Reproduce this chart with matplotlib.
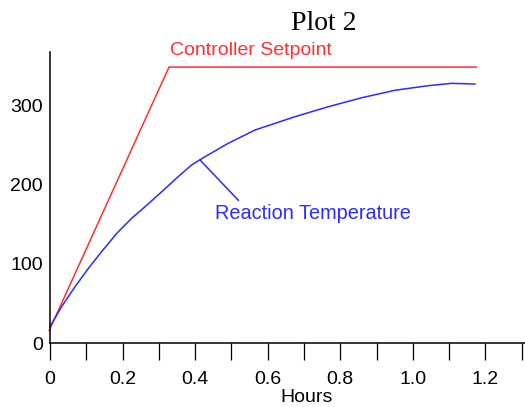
import matplotlib

matplotlib.use("Agg")
import matplotlib.pyplot as plt

# setpoint ramp then hold
setpoint_hours = [-0.002, 0.328, 1.175]
setpoint_values = [16, 348, 348]

# reaction temperature
temp_hours = [0.0, 0.032, 0.069, 0.106, 0.142, 0.184, 0.225, 0.262, 0.308,
              0.353, 0.390, 0.427, 0.491, 0.565, 0.675, 0.767, 0.859, 0.950,
              1.042, 1.107, 1.171]
temp_values = [20.6, 45.8, 71.0, 94.2, 115.1, 138.3, 157.3, 171.9, 190.8,
               209.7, 224.5, 234.9, 251.8, 268.6, 285.4, 298.0, 309.3, 318.7,
               324.5, 327.5, 326.6]

x_ticks = [i / 10 for i in range(14)]
x_labels = ["0", "", "0.2", "", "0.4", "", "0.6", "", "0.8", "", "1.0", "", "1.2", ""]
y_ticks = [0, 100, 200, 300]

RED = "#ff3030"
BLUE = "#2b2bff"
SANS = "Liberation Sans"

fig = plt.figure(figsize=(5.25, 4.07), dpi=100)
ax = fig.add_axes([50 / 525, 64 / 407, 475 / 525, 291 / 407])

ax.plot(setpoint_hours, setpoint_values, color=RED, lw=1.1, clip_on=False)
ax.plot(temp_hours, temp_values, color=BLUE, lw=1.1, clip_on=False)
ax.plot([0.413, 0.519], [231, 180], color=BLUE, lw=1.1)

ax.text(0.331, 369, "Controller Setpoint", color=RED, fontsize=14,
        family=SANS, va="center", ha="left", clip_on=False)
ax.text(0.455, 163, "Reaction Temperature", color=BLUE, fontsize=14.3,
        family=SANS, va="center", ha="left")

ax.set_xlim(0, 1.309)
ax.set_ylim(0, 367)
for side in ("top", "right"):
    ax.spines[side].set_visible(False)
for side in ("left", "bottom"):
    ax.spines[side].set_linewidth(1.1)

ax.set_xticks(x_ticks)
ax.set_xticklabels(x_labels, family=SANS, fontsize=14)
ax.set_yticks(y_ticks)
ax.set_yticklabels([str(v) for v in y_ticks], family=SANS, fontsize=14)
ax.tick_params(axis="x", direction="out", length=12, width=0.9, pad=8)
ax.tick_params(axis="y", length=0, pad=5)
ax.set_xlabel("Hours", family=SANS, fontsize=14, va="center")
ax.xaxis.set_label_coords(0.541, -54 / 291)

fig.text(324 / 525, 1 - 23 / 407, "Plot 2", family="Liberation Serif",
         fontsize=20, ha="center", va="center")

fig.savefig("out.png", dpi=100)
